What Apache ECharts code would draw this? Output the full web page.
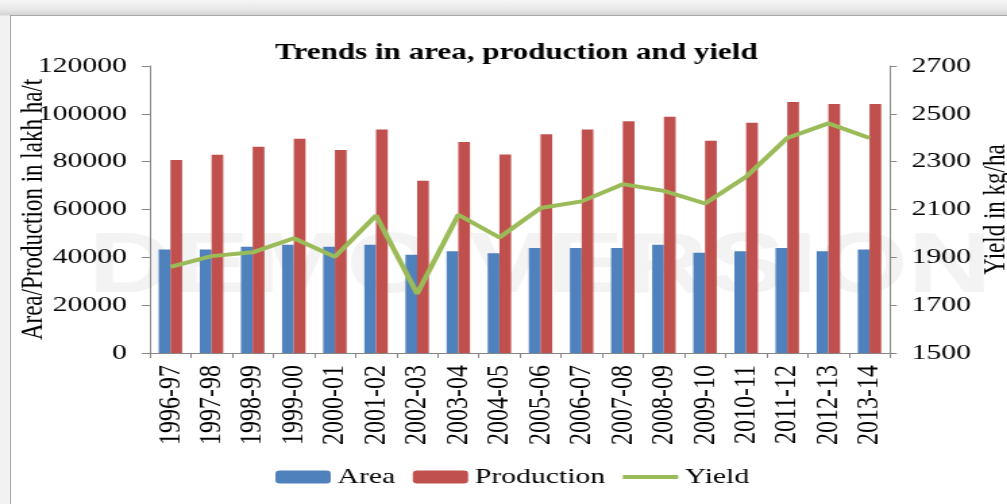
<!DOCTYPE html>
<html>
<head>
<meta charset="utf-8">
<script src="https://cdn.jsdelivr.net/npm/echarts@6/dist/echarts.min.js"></script>
<style>
  html, body { margin: 0; padding: 0; }
  body {
    width: 1007px; height: 504px; overflow: hidden; position: relative;
    background: linear-gradient(to bottom, #f6f6f6 0px, #e6e6e6 10px, #d4d4d4 15px, #f2f2f2 16px);
  }
  #frame {
    position: absolute; left: 10px; top: 15px; width: 1100px; height: 600px;
    border: 1px solid #a8a8a8; background: #ffffff;
  }
  #chart {
    position: absolute; left: 0; top: 0; width: 746px; height: 504px;
    transform: scaleX(1.35); transform-origin: 0 0;
  }
</style>
</head>
<body>
<div id="frame"></div>
<div id="chart"></div>
<script>
const categories = ['1996-97','1997-98','1998-99','1999-00','2000-01','2001-02','2002-03','2003-04','2004-05','2005-06','2006-07','2007-08','2008-09','2009-10','2010-11','2011-12','2012-13','2013-14'];
const areaValues = [43300, 43300, 44400, 45300, 44400, 45300, 41100, 42500, 41700, 43900, 43900, 43900, 45300, 41900, 42500, 43900, 42500, 43300];
const productionValues = [80700, 82900, 86200, 89600, 84900, 93500, 72000, 88200, 83000, 91500, 93500, 96900, 98800, 88700, 96300, 104900, 104100, 104100];
const yieldValues = [1860, 1905, 1921, 1980, 1902, 2075, 1748, 2078, 1983, 2106, 2134, 2206, 2178, 2125, 2237, 2399, 2460, 2399];
const leftTicks = { min: 0, max: 120000, interval: 20000 };
const rightTicks = { min: 1500, max: 2700, interval: 200 };

const serif = 'Liberation Serif';
const axisColor = '#868686';
const plain = v => String(v);
const chart = echarts.init(document.getElementById('chart'), null, { renderer: 'canvas' });
chart.setOption({
  animation: false,
  backgroundColor: 'transparent',
  title: {
    text: 'Trends in area, production and yield',
    left: 377.5, top: 37, textAlign: 'center',
    textStyle: { fontFamily: serif, fontWeight: 'bold', fontSize: 23, color: '#000' }
  },
  graphic: [{
    type: 'text', x: 400, y: 268, z: -10, silent: true,
    style: { text: 'DEMO VERSION', font: 'bold 86px "Liberation Sans"', fill: '#f3f3f3', align: 'center', verticalAlign: 'middle' }
  }],
  legend: {
    left: 199, top: 461,
    itemWidth: 41, itemHeight: 13, itemGap: 13,
    textStyle: { fontFamily: serif, fontSize: 22, color: '#000' },
    data: [
      { name: 'Area' },
      { name: 'Production' },
      { name: 'Yield', icon: 'path://M0,0L41,0L41,4L0,4Z' }
    ]
  },
  grid: { left: 111, right: 86.7, top: 66, bottom: 151, containLabel: false, outerBoundsMode: 'none' },
  xAxis: {
    type: 'category', data: categories, boundaryGap: true,
    axisLine: { show: true, lineStyle: { color: axisColor, width: 1 } },
    axisTick: { show: true, alignWithLabel: false, length: 5, lineStyle: { color: axisColor } },
    axisLabel: { rotate: 90, interval: 0, margin: 12, fontFamily: serif, fontSize: 24, color: '#000' },
    splitLine: { show: false }
  },
  yAxis: [{
    type: 'value', position: 'left',
    min: leftTicks.min, max: leftTicks.max, interval: leftTicks.interval,
    name: 'Area/Production in lakh ha/t', nameLocation: 'middle', nameGap: 75, nameRotate: 90,
    nameMoveOverlap: false,
    nameTextStyle: { fontFamily: serif, fontSize: 23, color: '#000' },
    axisLine: { show: true, lineStyle: { color: axisColor, width: 1 } },
    axisTick: { show: true, length: 6, inside: false, lineStyle: { color: axisColor } },
    axisLabel: { margin: 17, fontFamily: serif, fontSize: 22, color: '#000', formatter: plain },
    splitLine: { show: false }
  }, {
    type: 'value', position: 'right',
    min: rightTicks.min, max: rightTicks.max, interval: rightTicks.interval,
    name: 'Yield in kg/ha', nameLocation: 'middle', nameGap: 67, nameRotate: 90,
    nameMoveOverlap: false,
    nameTextStyle: { fontFamily: serif, fontSize: 23, color: '#000' },
    axisLine: { show: true, lineStyle: { color: axisColor, width: 1 } },
    axisTick: { show: true, length: 5, inside: false, lineStyle: { color: axisColor } },
    axisLabel: { margin: 16, fontFamily: serif, fontSize: 22, color: '#000', formatter: plain },
    splitLine: { show: false }
  }],
  series: [{
    name: 'Area', type: 'bar', data: areaValues, yAxisIndex: 0,
    barWidth: '28.5%', barGap: '0%', itemStyle: { color: '#4F81BD' }, z: 2
  }, {
    name: 'Production', type: 'bar', data: productionValues, yAxisIndex: 0,
    barWidth: '28.5%', barGap: '0%', itemStyle: { color: '#C0504D' }, z: 2
  }, {
    name: 'Yield', type: 'line', data: yieldValues, yAxisIndex: 1,
    symbol: 'none', showSymbol: false,
    lineStyle: { color: '#9BBB59', width: 4 }, itemStyle: { color: '#9BBB59' }, z: 3
  }]
});
</script>
</body>
</html>
